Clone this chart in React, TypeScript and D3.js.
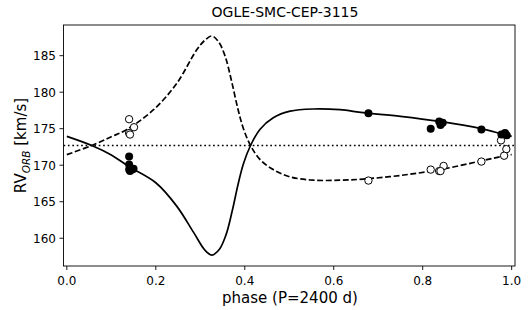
import { useMemo } from "react"
import * as d3 from "d3"

// curves: [phase, km/s]
const PRIMARY_CURVE: Array<[number, number]> = [
  [0.0, 173.95], [0.056, 172.7], [0.1, 171.4], [0.14, 169.8], [0.2, 167.6],
  [0.247, 164.4], [0.285, 160.8], [0.31, 158.4], [0.326, 157.7], [0.343, 158.5],
  [0.358, 160.5], [0.372, 163.8], [0.385, 167.4], [0.397, 170.2], [0.413, 172.7],
  [0.434, 174.9], [0.464, 176.5], [0.502, 177.4], [0.554, 177.7], [0.614, 177.6],
  [0.666, 177.2], [0.75, 176.7], [0.839, 176.0], [0.932, 175.0], [0.977, 174.3],
  [1.0, 173.95],
]
const SECONDARY_CURVE: Array<[number, number]> = [
  [0.0, 171.45], [0.056, 172.7], [0.1, 173.9], [0.135, 174.9], [0.195, 177.6],
  [0.247, 181.2], [0.292, 185.8], [0.31, 187.1], [0.326, 187.7], [0.341, 186.9],
  [0.356, 184.9], [0.37, 181.6], [0.385, 177.6], [0.397, 175.0], [0.413, 172.7],
  [0.434, 170.8], [0.464, 169.4], [0.502, 168.4], [0.554, 167.95], [0.614, 167.95],
  [0.666, 168.1], [0.75, 168.6], [0.839, 169.4], [0.932, 170.6], [0.985, 171.3],
  [1.0, 171.45],
]
const GAMMA = 172.7

const PRIMARY_OBS: Array<[number, number]> = [
  [0.14, 171.2], [0.14, 170.1], [0.14, 169.4], [0.142, 169.2], [0.147, 169.4],
  [0.15, 169.5], [0.678, 177.1], [0.818, 175.0], [0.837, 176.0], [0.845, 175.8],
  [0.84, 175.5], [0.932, 174.9], [0.977, 174.2], [0.985, 174.4], [0.989, 174.1],
]
const SECONDARY_OBS: Array<[number, number]> = [
  [0.14, 176.3], [0.151, 175.2], [0.14, 174.4], [0.142, 174.2],
  [0.678, 167.9], [0.818, 169.4], [0.837, 169.2], [0.847, 169.9], [0.84, 169.2],
  [0.932, 170.5], [0.976, 173.4], [0.988, 172.2], [0.983, 171.3],
]

const X_TICKS = [0, 0.2, 0.4, 0.6, 0.8, 1.0]
const Y_TICKS = [160, 165, 170, 175, 180, 185]

const W = 532
const H = 310
const M = { left: 63.5, right: 17, top: 25, bottom: 44 }
const FONT = "DejaVu Sans, sans-serif"

export default function App() {
  const x = useMemo(
    () => d3.scaleLinear().domain([-0.0075, 1.0075]).range([M.left, W - M.right]),
    []
  )
  const y = useMemo(
    () => d3.scaleLinear().domain([156.2, 189.2]).range([H - M.bottom, M.top]),
    []
  )
  const line = d3
    .line<[number, number]>()
    .x((d) => x(d[0]))
    .y((d) => y(d[1]))
    .curve(d3.curveCatmullRom.alpha(0.5))

  const [x0, x1] = x.range()
  const [y0, y1] = y.range()

  return (
    <svg
      width={W}
      height={H}
      style={{ position: "absolute", left: 0, top: 0, background: "#fff" }}
      fontFamily={FONT}
    >
      <text x={285} y={17} textAnchor="middle" fontSize={14}>
        OGLE-SMC-CEP-3115
      </text>

      <defs>
        <clipPath id="plot">
          <rect x={x0} y={y1} width={x1 - x0} height={y0 - y1} />
        </clipPath>
      </defs>

      <g clipPath="url(#plot)">
        <line
          x1={x0}
          x2={x1}
          y1={y(GAMMA)}
          y2={y(GAMMA)}
          stroke="#000"
          strokeWidth={1.7}
          strokeDasharray="1.7,2.7"
        />
        <path d={line(SECONDARY_CURVE) ?? undefined} fill="none" stroke="#000" strokeWidth={1.7} strokeDasharray="5.9,2.6" />
        <path d={line(PRIMARY_CURVE) ?? undefined} fill="none" stroke="#000" strokeWidth={1.7} />
        {SECONDARY_OBS.map((d, i) => (
          <circle key={`s${i}`} cx={x(d[0])} cy={y(d[1])} r={3.7} fill="#fff" stroke="#000" strokeWidth={1} />
        ))}
        {PRIMARY_OBS.map((d, i) => (
          <circle key={`p${i}`} cx={x(d[0])} cy={y(d[1])} r={4} fill="#000" />
        ))}
      </g>

      <rect x={x0} y={y1} width={x1 - x0} height={y0 - y1} fill="none" stroke="#000" strokeWidth={0.9} />

      {X_TICKS.map((t) => (
        <g key={t} transform={`translate(${x(t)},${y0})`}>
          <line y2={4} stroke="#000" strokeWidth={0.9} />
          <text y={18.5} textAnchor="middle" fontSize={12}>
            {t.toFixed(1)}
          </text>
        </g>
      ))}
      {Y_TICKS.map((t) => (
        <g key={t} transform={`translate(${x0},${y(t)})`}>
          <line x2={-4} stroke="#000" strokeWidth={0.9} />
          <text x={-7.5} dy="0.36em" textAnchor="end" fontSize={12}>
            {t}
          </text>
        </g>
      ))}

      <text x={290} y={303} textAnchor="middle" fontSize={15}>
        phase (P=2400 d)
      </text>
      <text transform={`translate(26,${(y0 + y1) / 2}) rotate(-90)`} textAnchor="middle" fontSize={15}>
        RV
        <tspan fontSize={10.5} fontStyle="italic" dy={3.5}>ORB</tspan>
        <tspan dy={-3.5}> [km/s]</tspan>
      </text>
    </svg>
  )
}
